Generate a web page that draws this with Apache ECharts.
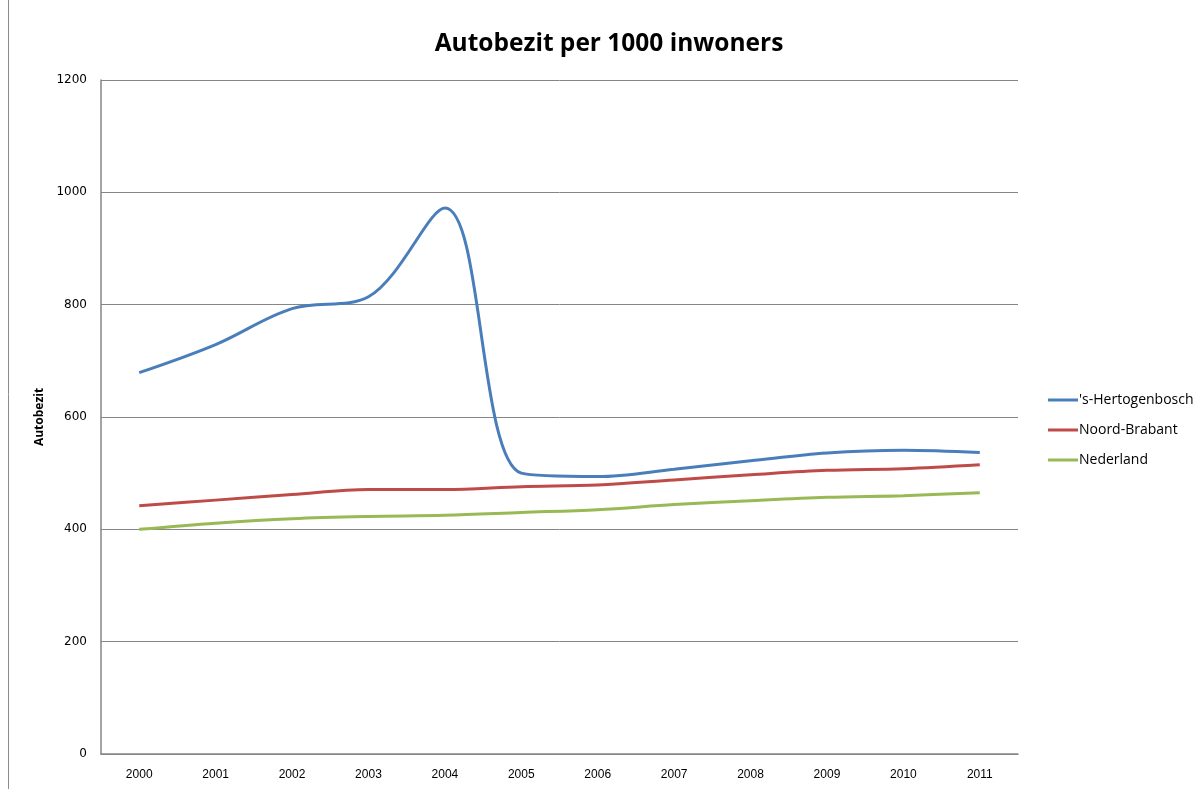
<!DOCTYPE html>
<html>
<head>
<meta charset="utf-8">
<script src="https://cdn.jsdelivr.net/npm/echarts@6/dist/echarts.min.js"></script>
<style>
  html, body { margin: 0; padding: 0; background: #fff; }
  #chart { width: 1197px; height: 789px; }
</style>
</head>
<body>
<div id="chart"></div>
<script>
const years = ["2000", "2001", "2002", "2003", "2004", "2005", "2006", "2007", "2008", "2009", "2010", "2011"];
const hertogenbosch = [679, 729, 793, 814, 972, 500, 494, 507, 522, 536, 541, 537];
const noordBrabant = [442, 452, 462, 471, 471, 476, 479, 488, 497, 505, 508, 515];
const nederland = [400, 411, 419, 423, 425, 430, 435, 444, 451, 457, 460, 465];
const yTicks = [0, 200, 400, 600, 800, 1000, 1200];

const axisGray = "#868686";

const chart = echarts.init(document.getElementById("chart"));

const mkLine = (name, data, color) => ({
  name: name,
  type: "line",
  data: data,
  smooth: 0.35,
  symbol: "none",
  lineStyle: { width: 3, color: color },
  itemStyle: { color: color },
});

chart.setOption({
  animation: false,
  title: {
    text: "Autobezit per 1000 inwoners",
    left: 604,
    textAlign: "center",
    top: 27,
    textStyle: {
      fontFamily: "Open Sans",
      fontWeight: "bold",
      fontSize: 24.5,
      color: "#000",
    },
  },
  grid: { left: 101, right: 179, top: 80, bottom: 35 },
  legend: {
    orient: "vertical",
    left: 1043,
    top: 388,
    itemWidth: 30,
    itemHeight: 3,
    itemGap: 16,
    icon: "rect",
    textStyle: { fontFamily: "Open Sans", fontSize: 14, color: "#000", padding: [0, 0, 0, -4] },
    data: ["'s-Hertogenbosch", "Noord-Brabant", "Nederland"],
  },
  xAxis: {
    type: "category",
    data: years,
    boundaryGap: true,
    axisLine: { lineStyle: { color: axisGray, width: 1.5 } },
    axisTick: { show: false },
    axisLabel: {
      margin: 15,
      color: "#000",
      fontFamily: "Liberation Sans",
      fontSize: 12,
    },
  },
  yAxis: {
    type: "value",
    min: yTicks[0],
    max: yTicks[yTicks.length - 1],
    interval: 200,
    name: "Autobezit",
    nameLocation: "middle",
    nameGap: 50,
    nameTextStyle: { fontFamily: "Open Sans", fontWeight: "bold", fontSize: 12, color: "#000" },
    axisLine: { show: true, lineStyle: { color: axisGray, width: 1.5 } },
    axisTick: { show: false },
    splitLine: { lineStyle: { color: axisGray, width: 1 } },
    axisLabel: {
      margin: 14,
      color: "#000",
      fontFamily: "DejaVu Sans",
      fontSize: 12,
      formatter: (v) => String(v),
    },
  },
  graphic: [
    {
      type: "line",
      shape: { x1: 8.5, y1: 0, x2: 8.5, y2: 789 },
      style: { stroke: "#8c8c8c", lineWidth: 1 },
    },
  ],
  series: [
    mkLine("'s-Hertogenbosch", hertogenbosch, "#4a7ebb"),
    mkLine("Noord-Brabant", noordBrabant, "#be4b48"),
    mkLine("Nederland", nederland, "#98b954"),
  ],
});
</script>
</body>
</html>
